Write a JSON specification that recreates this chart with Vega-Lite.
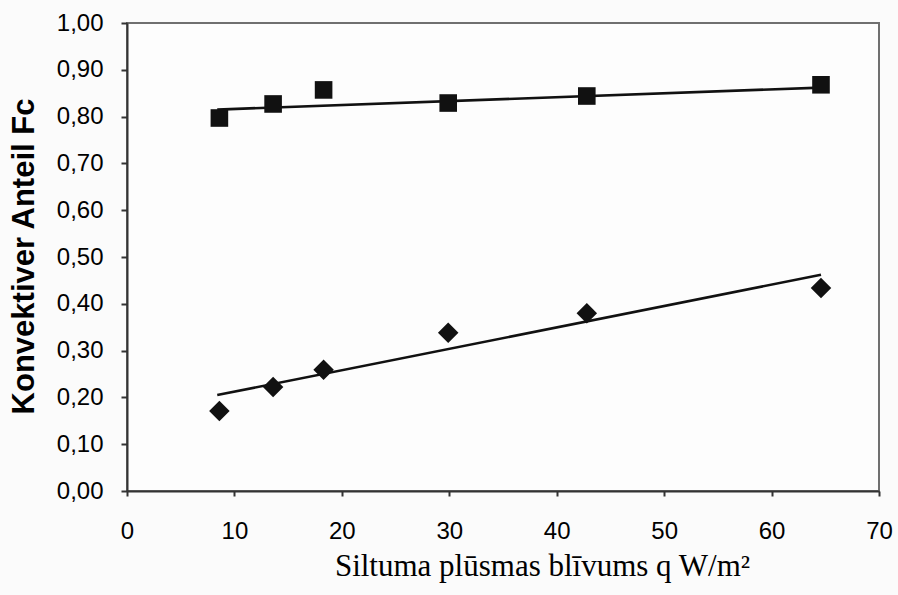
{
  "$schema": "https://vega.github.io/schema/vega-lite/v6.json",
  "width": 752,
  "height": 468,
  "autosize": {"type": "none"},
  "padding": {"left": 127, "top": 23, "right": 19, "bottom": 104},
  "background": "#fbfbfb",
  "config": {
    "view": {"stroke": "#707070", "strokeWidth": 2, "fill": "#fdfdfd"},
    "axis": {"grid": false}
  },
  "data": {
    "values": [
      {"q": 8.6, "fc": 0.797, "series": "Serie A", "kind": "point"},
      {"q": 13.6, "fc": 0.827, "series": "Serie A", "kind": "point"},
      {"q": 18.3, "fc": 0.857, "series": "Serie A", "kind": "point"},
      {"q": 29.9, "fc": 0.829, "series": "Serie A", "kind": "point"},
      {"q": 42.8, "fc": 0.844, "series": "Serie A", "kind": "point"},
      {"q": 64.6, "fc": 0.868, "series": "Serie A", "kind": "point"},
      {"q": 8.6, "fc": 0.171, "series": "Serie B", "kind": "point"},
      {"q": 13.6, "fc": 0.222, "series": "Serie B", "kind": "point"},
      {"q": 18.3, "fc": 0.259, "series": "Serie B", "kind": "point"},
      {"q": 29.9, "fc": 0.338, "series": "Serie B", "kind": "point"},
      {"q": 42.8, "fc": 0.380, "series": "Serie B", "kind": "point"},
      {"q": 64.6, "fc": 0.434, "series": "Serie B", "kind": "point"},
      {"q": 8.4, "fc": 0.815, "series": "Serie A", "kind": "trend"},
      {"q": 64.6, "fc": 0.862, "series": "Serie A", "kind": "trend"},
      {"q": 8.4, "fc": 0.205, "series": "Serie B", "kind": "trend"},
      {"q": 64.6, "fc": 0.462, "series": "Serie B", "kind": "trend"}
    ]
  },
  "encoding": {
    "x": {
      "field": "q", "type": "quantitative",
      "scale": {"domain": [0, 70], "nice": false, "zero": false},
      "axis": {
        "values": [0, 10, 20, 30, 40, 50, 60, 70],
        "title": "Siltuma plūsmas blīvums q W/m²",
        "titleFont": "Liberation Serif", "titleFontSize": 31, "titleFontWeight": "normal", "titleColor": "#000",
        "titleX": 415, "titleY": 84, "titleBaseline": "alphabetic", "titleAlign": "center", "titleAnchor": null,
        "labelFont": "Liberation Sans", "labelFontSize": 24, "labelColor": "#000", "labelPadding": 23,
        "tickSize": 5, "tickColor": "#333", "tickWidth": 2,
        "domainColor": "#333", "domainWidth": 2, "labelFlush": false
      }
    },
    "y": {
      "field": "fc", "type": "quantitative",
      "scale": {"domain": [0, 1], "nice": false},
      "axis": {
        "values": [0, 0.1, 0.2, 0.3, 0.4, 0.5, 0.6, 0.7, 0.8, 0.9, 1.0],
        "labelExpr": "replace(format(datum.value, '.2f'), '.', ',')",
        "title": "Konvektiver Anteil Fc",
        "titleFont": "Liberation Sans", "titleFontSize": 31, "titleFontWeight": "bold", "titleColor": "#000",
        "titleX": -94, "titleY": 233, "titleBaseline": "alphabetic", "titleAlign": "center", "titleAngle": -90,
        "labelFont": "Liberation Sans", "labelFontSize": 24, "labelColor": "#000", "labelPadding": 18,
        "tickSize": 6, "tickColor": "#333", "tickWidth": 2,
        "domainColor": "#333", "domainWidth": 2, "labelFlush": false
      }
    }
  },
  "layer": [
    {
      "transform": [{"filter": "datum.kind === 'trend'"}],
      "mark": {"type": "line", "color": "#111", "strokeWidth": 2.6},
      "encoding": {"detail": {"field": "series"}}
    },
    {
      "transform": [{"filter": "datum.kind === 'point'"}],
      "mark": {"type": "point", "filled": true, "color": "#111", "opacity": 1},
      "encoding": {
        "shape": {
          "field": "series", "type": "nominal",
          "scale": {"domain": ["Serie A", "Serie B"], "range": ["square", "diamond"]},
          "legend": null
        },
        "size": {
          "field": "series", "type": "nominal",
          "scale": {"domain": ["Serie A", "Serie B"], "range": [310, 420]},
          "legend": null
        }
      }
    }
  ]
}
